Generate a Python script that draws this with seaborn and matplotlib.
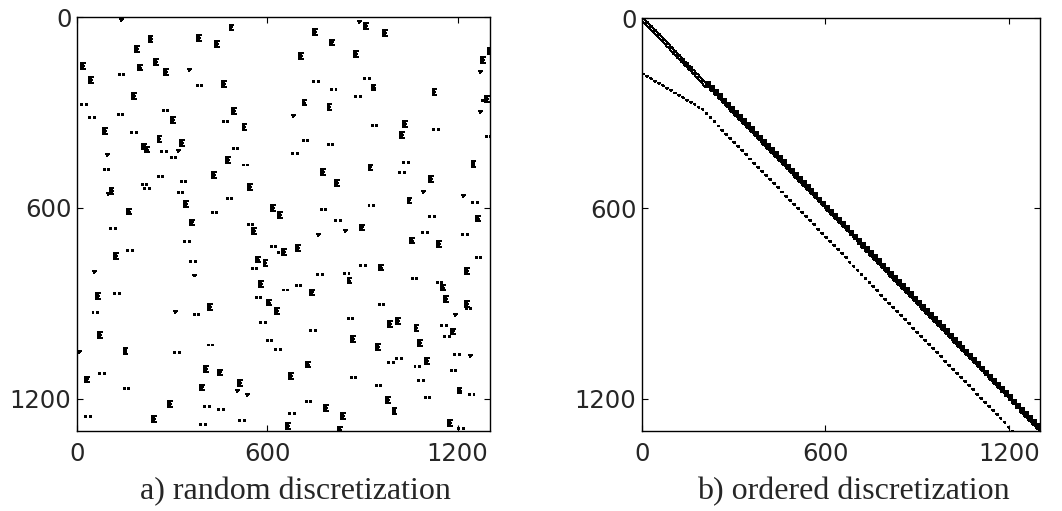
import numpy as np
import pandas as pd
import matplotlib
matplotlib.use("Agg")
import matplotlib.pyplot as plt
import seaborn as sns

# ---------------- data ----------------
N = 1301  # matrix dimension

# Left panel (random discretization): cluster anchors (column, row) and kind
# kind: E = dense block, p = pair of entries, t = small triangle-like group
RAND_COLS = [137, 481, 887, 906, 966, 745, 378, 226, 436, 798, 182, 1297, 874, 700, 1274, 244,
             14, 192, 275, 349, 1267, 131, 37, 745, 906, 457, 378, 929, 1121, 801, 173, 877,
             1286, 711, 1276, 790, 14, 490, 270, 1267, 128, 679, 296, 39, 459, 1029, 522, 929,
             82, 1123, 171, 1018, 254, 1288, 712, 325, 205, 790, 215, 491, 315, 266, 92, 679,
             296, 470, 1244, 1029, 522, 919, 84, 769, 1016, 425, 254, 1111, 814, 328, 205, 539,
             212, 103, 1087, 318, 94, 1213, 1042, 473, 338, 1246, 919, 611, 158, 769, 635, 425,
             1257, 1111, 357, 814, 539, 893, 551, 105, 842, 1089, 758, 1215, 1050, 1134, 338, 690,
             611, 646, 158, 635, 116, 564, 1257, 588, 357, 952, 893, 1223, 551, 50, 365, 758,
             842, 853, 1055, 574, 1134, 1148, 690, 735, 648, 60, 118, 1158, 564, 599, 1223, 413,
             952, 625, 1225, 307, 49, 368, 1190, 1006, 853, 982, 578, 1064, 1148, 1179, 735, 66,
             863, 1158, 1076, 599, 942, 413, 147, 625, 3, 307, 1190, 1236, 1097, 1006, 722, 982,
             401, 1064, 446, 1179, 669, 70, 26, 863, 509, 1076, 389, 942, 147, 1200, 502, 532,
             1236, 1097, 974, 287, 722, 779, 401, 995, 446, 832, 669, 236, 26, 1171, 512, 658,
             389, 822, 1202]
RAND_ROWS = [6, 24, 14, 19, 42, 38, 56, 61, 77, 71, 92, 97, 108, 113, 126, 132,
             145, 150, 163, 163, 171, 178, 189, 200, 192, 202, 213, 213, 227, 227, 239, 250,
             250, 260, 260, 273, 274, 287, 292, 297, 304, 307, 315, 316, 328, 328, 338, 341,
             349, 352, 363, 363, 375, 375, 388, 388, 398, 399, 408, 412, 419, 422, 430, 429,
             441, 441, 454, 456, 464, 464, 477, 478, 489, 489, 501, 501, 514, 515, 525, 525,
             537, 538, 547, 549, 554, 560, 568, 568, 579, 581, 591, 591, 603, 603, 614, 614,
             625, 627, 637, 639, 650, 653, 664, 664, 671, 675, 683, 683, 694, 704, 706, 717,
             719, 731, 733, 740, 743, 754, 756, 765, 766, 779, 779, 790, 790, 799, 810, 808,
             805, 820, 821, 831, 834, 842, 843, 857, 857, 868, 868, 879, 880, 889, 894, 902,
             904, 915, 915, 925, 927, 934, 934, 946, 946, 957, 959, 969, 969, 980, 983, 991,
             1004, 1004, 1017, 1017, 1028, 1030, 1042, 1043, 1050, 1054, 1060, 1062, 1073, 1073, 1084, 1084,
             1097, 1097, 1109, 1109, 1121, 1121, 1131, 1133, 1142, 1142, 1156, 1156, 1166, 1166, 1174, 1185,
             1185, 1196, 1196, 1208, 1208, 1221, 1222, 1231, 1232, 1245, 1245, 1255, 1255, 1268, 1268, 1278,
             1281, 1289, 1292]
RAND_KIND = ['t', 'E', 't', 'E', 'E', 'E', 'E', 'E', 'E', 'E', 'E', 'E', 'E', 'E', 'E', 'E',
             'E', 'E', 'E', 't', 't', 'p', 'E', 'p', 'p', 'E', 'p', 'E', 'E', 'p', 'E', 'p',
             'E', 'E', 'p', 'E', 'p', 'E', 'p', 't', 'p', 't', 'E', 'p', 'p', 'E', 'E', 'p',
             'E', 'p', 'p', 'E', 'E', 'p', 'p', 'E', 'E', 'p', 'E', 'p', 't', 'p', 't', 'p',
             'p', 'E', 'E', 'p', 'p', 'E', 'p', 'E', 'p', 'E', 'p', 'E', 'E', 'p', 'p', 'E',
             'p', 'E', 't', 'p', 't', 't', 'E', 'p', 'E', 'p', 'p', 'E', 'E', 'p', 'E', 'p',
             'E', 'p', 'E', 'p', 'p', 'E', 'E', 'p', 't', 'p', 't', 'p', 'E', 'E', 'p', 'E',
             'p', 'E', 'p', 'p', 'E', 'E', 'p', 'E', 'p', 'E', 'p', 'E', 'p', 't', 't', 'p',
             'p', 'E', 'p', 'E', 'p', 'E', 'p', 'E', 'p', 'E', 'p', 'E', 'p', 'E', 'E', 'E',
             'p', 'E', 'p', 't', 'p', 'p', 't', 'E', 'p', 'E', 'p', 'E', 'p', 'E', 'p', 'E',
             'E', 'p', 'E', 'p', 'E', 'p', 'E', 'p', 't', 'p', 'p', 't', 'E', 'p', 'E', 'p',
             'E', 'p', 'E', 'p', 'E', 'p', 'E', 'p', 'E', 'p', 'E', 'p', 'p', 'E', 't', 't',
             'p', 'p', 'E', 'E', 'p', 'E', 'p', 'E', 'p', 'E', 'p', 'E', 'p', 'E', 'p', 'E',
             'p', 'E', 'p']

# Shapes of the entry groups, as (column, row) offsets of nonzeros
E_DX = [0, 3, 6, 9, 12, 0, 3, 6, 0, 3, 6, 0, 3, 6, 9, 0, 3, 6, 0, 3, 6, 0, 3, 6, 9, 12]
E_DY = [0, 0, 0, 0, 0, 3, 3, 3, 6, 6, 6, 9, 9, 9, 9, 12, 12, 12, 15, 15, 15, 18, 18, 18, 18, 18]
P_DX = [0, 3, 0, 3, 14, 17, 14, 17]
P_DY = [0, 0, 3, 3, 0, 0, 3, 3]
T_DX = [0, 3, 6, 9, 3, 6, 3]
T_DY = [0, 0, 0, 0, 3, 3, 6]

# Right panel (ordered discretization): band centre lines
BLOCK = 13
MAIN_COLS = [0, 1301]
MAIN_ROWS = [0, 1301]
LOWER_COLS = [0, 196, 1210]
LOWER_ROWS = [175, 288, 1302]
HOLLOW_END = 196  # end of the double-line part of the main band
# tooth shapes along the bands
TOOTH_DX = [0, 3, 6, 9, 12, 15, 0, 3, 6, 9, 12, 15, 0, 3, 6, 9, 12, 15,
            3, 6, 9, 12, 15, 3, 6, 9, 12, 6, 9, 12]
TOOTH_DY = [-6, -6, -6, -6, -6, -6, -3, -3, -3, -3, -3, -3, 0, 0, 0, 0, 0, 0,
            3, 3, 3, 3, 3, 6, 6, 6, 6, 9, 9, 9]
HOLLOW_DX = [0, 3, 6, 9, 12, 0, 3, 6, 9, 12, 0, 3, 3, 6]
HOLLOW_DY = [-4, -1, 2, 5, 8, 9, 12, 15, 18, 21, 3, 3, 0, 0]
DOT_DX = [0, 3, 6, 3, 6]
DOT_DY = [0, 0, 0, 3, 3]
DASH_DX = [0, 3, 6, 3]
DASH_DY = [0, 0, 1, 3]

# ---------------- build nonzero lists ----------------
shapes = {'E': (E_DX, E_DY), 'p': (P_DX, P_DY), 't': (T_DX, T_DY)}
lc, lr = [], []
for c, r, k in zip(RAND_COLS, RAND_ROWS, RAND_KIND):
    dx, dy = shapes[k]
    lc += [c + d for d in dx]
    lr += [r + d for d in dy]
left = pd.DataFrame({'col': lc, 'row': lr})

rc, rr = [], []
anchors = np.arange(0, N, BLOCK)
for a in anchors:
    mc = a
    mr = np.interp(a, MAIN_COLS, MAIN_ROWS)
    lrow = np.interp(a, LOWER_COLS, LOWER_ROWS)
    if a < HOLLOW_END:
        rc += [mc + d for d in HOLLOW_DX]
        rr += [mr + d for d in HOLLOW_DY]
        rc += [a + d for d in DASH_DX]
        rr += [lrow + d for d in DASH_DY]
    else:
        rc += [mc + d for d in TOOTH_DX]
        rr += [mr + d for d in TOOTH_DY]
        rc += [a + d for d in DOT_DX]
        rr += [lrow + d for d in DOT_DY]
right = pd.DataFrame({'col': rc, 'row': rr})
right = right[(right.row <= N) & (right.col <= N) & (right.row >= 0)]

# ---------------- plot ----------------
sns.set_theme(style="white")
plt.rcParams['font.family'] = ['DejaVu Sans']

fig = plt.figure(figsize=(10.62, 5.11), dpi=100)
ax1 = fig.add_axes([77 / 1062, 1 - 431 / 511, 413 / 1062, 414 / 511])
ax2 = fig.add_axes([642 / 1062, 1 - 431 / 511, 398 / 1062, 413 / 511])

for ax, df in ((ax1, left), (ax2, right)):
    sns.scatterplot(data=df, x='col', y='row', ax=ax, color='black', marker='s',
                    s=2.8, linewidth=0, legend=False)
    ax.set_xlim(0, N + 1)
    ax.set_ylim(N + 1, 0)
    ax.set_xticks([0, 600, 1200])
    ax.set_yticks([0, 600, 1200])
    ax.set_xticklabels(['0', '600', '1200'])
    ax.set_yticklabels(['0', '600', '1200'])
    ax.set_xlabel('')
    ax.set_ylabel('')
    ax.tick_params(direction='in', length=4, width=0.8, color='black',
                   top=True, right=True, bottom=True, left=True,
                   labelsize=17.5)
    ax.tick_params(axis='x', pad=8)
    ax.tick_params(axis='y', pad=4)
    for sp in ax.spines.values():
        sp.set_visible(True)
        sp.set_color('black')
        sp.set_linewidth(1.0)
    ax.set_facecolor('white')

fig.text(295 / 1062, 1 - 499 / 511, 'a) random discretization', ha='center', va='baseline',
         fontsize=23, family=['Liberation Serif', 'DejaVu Serif'])
fig.text(853 / 1062, 1 - 499 / 511, 'b) ordered discretization', ha='center', va='baseline',
         fontsize=23, family=['Liberation Serif', 'DejaVu Serif'])

fig.savefig('out.png', dpi=100, facecolor='white')
